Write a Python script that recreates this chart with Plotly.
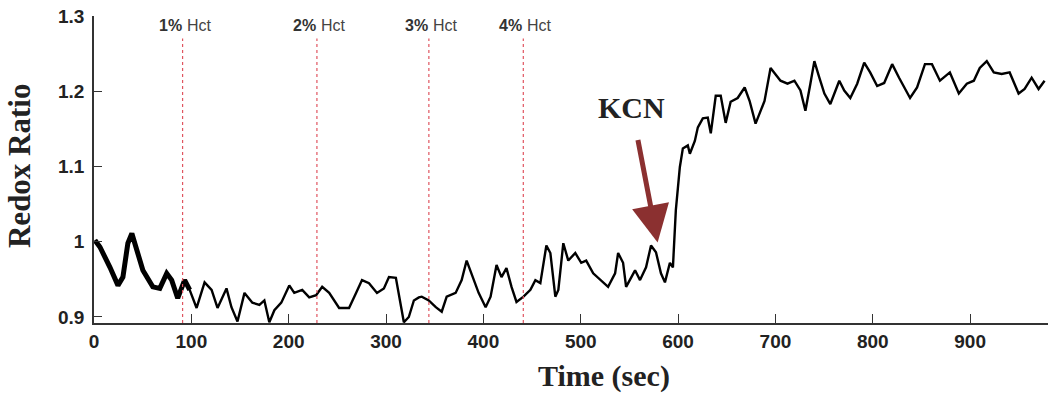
import plotly.graph_objects as go

time_sec = [1.0, 6.1, 16.4, 24.6, 29.7, 34.8, 38.9, 42.0, 50.2, 60.4, 67.6, 74.7, 79.8, 86.0, 93.1, 98.3,
            105.4, 113.6, 120.8, 126.9, 136.1, 141.2, 147.4, 154.6, 162.7, 169.9, 175.0, 180.1, 185.3, 192.4,
            200.6, 205.7, 213.9, 221.1, 228.2, 234.4, 241.6, 251.8, 262.0, 269.2, 275.3, 282.5, 290.7, 297.8,
            303.0, 310.1, 315.3, 318.3, 323.4, 328.6, 333.7, 336.7, 343.9, 351.1, 357.2, 362.3, 371.5, 377.7,
            382.8, 387.9, 395.1, 402.3, 407.4, 413.5, 418.6, 423.7, 428.9, 434.0, 441.2, 448.3, 453.4, 458.5,
            464.7, 468.8, 473.9, 477.0, 482.1, 487.2, 494.4, 500.5, 505.6, 512.8, 521.0, 528.1, 535.3, 538.4,
            543.5, 546.6, 555.8, 560.9, 567.1, 572.2, 577.3, 582.4, 586.5, 591.6, 594.7, 597.7, 601.8, 604.9,
            610.0, 612.1, 617.2, 620.3, 625.4, 630.5, 633.6, 638.7, 643.8, 648.9, 654.0, 661.2, 668.4, 673.5,
            679.6, 688.8, 695.0, 700.1, 705.2, 712.4, 719.5, 725.7, 730.8, 735.9, 740.0, 745.1, 750.3, 756.4,
            760.5, 765.6, 770.7, 776.9, 784.0, 791.2, 797.3, 804.5, 811.7, 819.9, 827.0, 838.3, 845.5, 853.6,
            860.8, 869.0, 879.2, 888.4, 896.6, 903.8, 909.9, 917.1, 924.3, 932.4, 940.6, 949.8, 956.0, 963.2,
            970.3, 976.5]
redox_ratio = [1.002, 0.993, 0.966, 0.942, 0.953, 0.998, 1.011, 0.998, 0.962, 0.940, 0.938, 0.958, 0.949, 0.925,
               0.949, 0.936, 0.912, 0.946, 0.936, 0.912, 0.938, 0.913, 0.894, 0.932, 0.919, 0.916, 0.922, 0.893,
               0.909, 0.919, 0.942, 0.932, 0.936, 0.926, 0.929, 0.940, 0.932, 0.912, 0.912, 0.932, 0.949, 0.945,
               0.932, 0.938, 0.953, 0.952, 0.913, 0.893, 0.900, 0.922, 0.926, 0.927, 0.922, 0.913, 0.907, 0.927,
               0.932, 0.949, 0.975, 0.958, 0.932, 0.913, 0.927, 0.969, 0.953, 0.965, 0.940, 0.920, 0.927, 0.936,
               0.949, 0.945, 0.995, 0.985, 0.927, 0.936, 0.998, 0.975, 0.985, 0.972, 0.975, 0.958, 0.949, 0.940,
               0.958, 0.985, 0.972, 0.940, 0.962, 0.949, 0.966, 0.995, 0.986, 0.958, 0.946, 0.972, 0.966, 1.042,
               1.099, 1.124, 1.128, 1.117, 1.134, 1.152, 1.164, 1.165, 1.144, 1.194, 1.194, 1.158, 1.186, 1.191,
               1.205, 1.187, 1.157, 1.187, 1.231, 1.223, 1.214, 1.210, 1.214, 1.201, 1.174, 1.210, 1.240, 1.218,
               1.197, 1.183, 1.197, 1.214, 1.201, 1.191, 1.210, 1.238, 1.225, 1.207, 1.211, 1.236, 1.218, 1.191,
               1.205, 1.236, 1.236, 1.214, 1.225, 1.197, 1.210, 1.214, 1.231, 1.240, 1.225, 1.223, 1.225, 1.197,
               1.203, 1.218, 1.203, 1.214]

hct_times = [91, 229, 344, 441]
hct_labels = ["1%", "2%", "3%", "4%"]
x_ticks = [0, 100, 200, 300, 400, 500, 600, 700, 800, 900]
y_ticks = [0.9, 1.0, 1.1, 1.2, 1.3]
y_tick_labels = ["0.9", "1", "1.1", "1.2", "1.3"]
kcn_time, kcn_ratio = 579, 0.999

fig = go.Figure()

# thick early segment
early_t = [t for t in time_sec if t <= 100]
early_r = redox_ratio[:len(early_t)]
fig.add_trace(go.Scatter(x=early_t, y=early_r, mode="lines",
                         line=dict(color="black", width=5), showlegend=False, hoverinfo="skip"))
fig.add_trace(go.Scatter(x=time_sec, y=redox_ratio, mode="lines",
                         line=dict(color="black", width=2.4), showlegend=False))

for t, lab in zip(hct_times, hct_labels):
    fig.add_shape(type="line", x0=t, x1=t, y0=0.892, y1=1.27, xref="x", yref="y",
                  line=dict(color="#e05560", width=1.2, dash="dot"))
    fig.add_annotation(x=t, y=1.287, xref="x", yref="y", text="<b>" + lab + "</b>", showarrow=False,
                       xanchor="right", yanchor="middle", xshift=1,
                       font=dict(family="Arial, Liberation Sans", size=16, color="#333"))
    fig.add_annotation(x=t, y=1.287, xref="x", yref="y", text="Hct", showarrow=False,
                       xanchor="left", yanchor="middle", xshift=2,
                       font=dict(family="Arial, Liberation Sans", size=16, color="#444"))

fig.add_annotation(x=kcn_time, y=kcn_ratio, xref="x", yref="y", ax=-20, ay=-104,
                   showarrow=True, arrowhead=2, arrowsize=1.5, arrowwidth=5, arrowcolor="#8B3030", text="")
fig.add_annotation(x=552, y=1.178, xref="x", yref="y", text="<b>KCN</b>", showarrow=False,
                   font=dict(family="Times New Roman, Liberation Serif", size=30, color="#222"))

fig.add_annotation(xref="paper", yref="paper", x=-0.078, y=0.51, text="<b>Redox Ratio</b>", textangle=-90,
                   showarrow=False, xanchor="center", yanchor="middle",
                   font=dict(family="Times New Roman, Liberation Serif", size=31, color="#222"))
fig.add_annotation(xref="paper", yref="paper", x=0.535, y=-0.173, text="<b>Time (sec)</b>",
                   showarrow=False, xanchor="center", yanchor="middle",
                   font=dict(family="Times New Roman, Liberation Serif", size=30, color="#222"))

tick_font = dict(family="Arial, Liberation Sans", size=19, color="#222", weight="bold")
fig.update_xaxes(range=[0, 980], tickvals=x_ticks, ticks="inside", ticklen=9, tickwidth=1.2,
                 tickcolor="#333", showline=True, linecolor="#333", linewidth=1.5, showgrid=False,
                 zeroline=False, tickfont=tick_font)
fig.update_yaxes(range=[0.892, 1.3], tickvals=y_ticks, ticktext=y_tick_labels, ticks="inside", ticklen=8,
                 tickwidth=1.2, tickcolor="#333", showline=True, linecolor="#333", linewidth=1.5,
                 showgrid=False, zeroline=False, ticklabelstandoff=4, tickfont=tick_font)
fig.update_layout(width=1050, height=393, margin=dict(l=94, r=2, t=16, b=70),
                  plot_bgcolor="white", paper_bgcolor="white",
                  font=dict(family="Arial, Liberation Sans"))
fig.write_html("out.html")
